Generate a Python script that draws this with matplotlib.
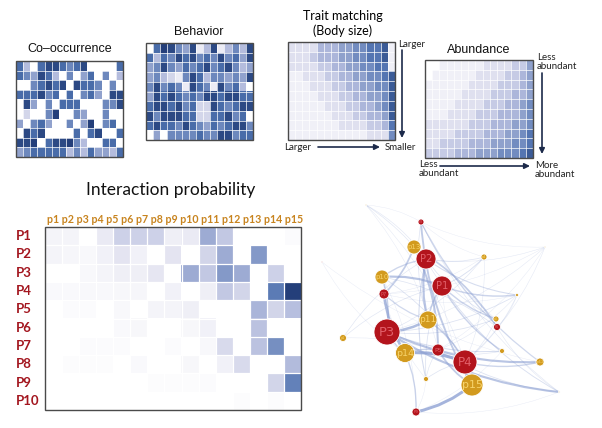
import matplotlib
matplotlib.use('Agg')
import matplotlib.pyplot as plt
import numpy as np
from matplotlib.colors import LinearSegmentedColormap
from matplotlib.patches import Circle, FancyArrowPatch, Rectangle

W, H = 602, 428

# small matrices, levels 0 (white) .. 9 (darkest), one string per row
cooccurrence = [
    "630677656700006",
    "654763050460503",
    "005676707665050",
    "666756060564077",
    "074050666000557",
    "020058005400500",
    "405640050480560",
    "076700006067006",
    "778067785300660",
    "456666635364436",
]
behavior = [
    "068754713713537",
    "636576756575647",
    "457546567567534",
    "453215763554547",
    "575651765175630",
    "476765657767766",
    "677675622765677",
    "757776622667560",
    "676657654656775",
    "040555565577566",
]
trait_matching = [
    "222244455667781",
    "222344455667781",
    "222233445566771",
    "112223344556678",
    "111222334455668",
    "111122233445568",
    "111112223344568",
    "111111222334458",
    "111111122223347",
    "111111111112226",
]
abundance = [
    "001111112222335",
    "011111122223345",
    "111111222233345",
    "111112222333445",
    "111122223334456",
    "111222233344456",
    "222222333444556",
    "222233334445567",
    "223333444555667",
    "333344455566678",
]

plants = ["P1", "P2", "P3", "P4", "P5", "P6", "P7", "P8", "P9", "P10"]
pollinators = ["p1", "p2", "p3", "p4", "p5", "p6", "p7", "p8", "p9", "p10",
               "p11", "p12", "p13", "p14", "p15"]
interaction = [
    [0.08, 0.08, 0, 0.15, 0.3, 0.3, 0.3, 0.12, 0.15, 0.5, 0.35, 0, 0, 0, 0.03],
    [0.08, 0.07, 0.05, 0.1, 0.2, 0.1, 0, 0.2, 0, 0.28, 0.5, 0, 0.6, 0, 0],
    [0, 0, 0.05, 0.08, 0.12, 0.12, 0.18, 0, 0.5, 0.35, 0.6, 0.5, 0, 0.3, 0],
    [0.04, 0.04, 0.05, 0.05, 0.06, 0.07, 0, 0.1, 0, 0.12, 0.35, 0.28, 0, 0.75, 1.0],
    [0, 0.03, 0.03, 0, 0.05, 0, 0.08, 0.08, 0.12, 0, 0, 0, 0.45, 0.28, 0.4],
    [0, 0, 0, 0, 0.04, 0.06, 0, 0, 0.06, 0.1, 0, 0, 0.38, 0, 0],
    [0, 0, 0.03, 0.03, 0.03, 0, 0, 0.03, 0, 0.05, 0.25, 0, 0.38, 0.65, 0],
    [0, 0.02, 0.02, 0.02, 0, 0.04, 0, 0, 0.06, 0, 0.1, 0.25, 0, 0, 0.42],
    [0, 0, 0, 0, 0, 0, 0.02, 0.02, 0.02, 0.03, 0, 0, 0, 0.28, 0.72],
    [0, 0, 0, 0, 0, 0, 0, 0, 0, 0, 0, 0.02, 0, 0.02, 0],
]

# network layout (pixel positions and radii)
plant_x = [442, 426, 387, 465, 438, 497, 384, 421, 416, 322]
plant_y = [286, 259, 332, 362, 350, 327, 294, 222, 412, 262]
plant_r = [10, 10, 13, 12, 6, 3.5, 5, 3, 4, 0.6]
poll_x = [343, 366, 545, 484, 517, 496, 502, 426, 559, 382, 428, 540, 414, 405, 472]
poll_y = [338, 205, 247, 257, 295, 319, 351, 379, 392, 277, 320, 362, 247, 353, 385]
poll_r = [3.5, 0.8, 0.8, 3, 1.5, 3, 2.5, 2.5, 0.8, 7, 9, 4, 7, 9.5, 11]

cmap = LinearSegmentedColormap.from_list(
    'ip', ['#ffffff', '#e4e4f1', '#b7bfdf', '#8499c8', '#4f72b0', '#243f7a'])
RED = '#b3141c'
GOLD = '#d29a1e'


def draw_matrix(ax, values, box, vmax, lw=0.5):
    arr = np.array(values, dtype=float)
    nr, nc = arr.shape
    x0, y0, x1, y1 = box
    ax.imshow(arr, cmap=cmap, vmin=0, vmax=vmax, extent=(x0, x1, y1, y0),
              origin='upper', interpolation='nearest', aspect='auto', zorder=1)
    xs = np.linspace(x0, x1, nc + 1)
    ys = np.linspace(y0, y1, nr + 1)
    ax.vlines(xs[1:-1], y0, y1, color='white', lw=lw, zorder=1.5)
    ax.hlines(ys[1:-1], x0, x1, color='white', lw=lw, zorder=1.5)
    ax.add_patch(Rectangle((x0, y0), x1 - x0, y1 - y0, fill=False,
                           ec='#4a4a4a', lw=1.0, zorder=4))


def arrow(ax, start, end):
    ax.annotate("", xy=end, xytext=start,
                arrowprops=dict(arrowstyle='-|>', color='#1c2a4a', lw=1.2,
                                mutation_scale=8, shrinkA=0, shrinkB=0))


fig = plt.figure(figsize=(W / 100, H / 100), dpi=100)
ax = fig.add_axes([0, 0, 1, 1])
ax.axis('off')

as_levels = lambda rows: [[int(c) for c in r] for r in rows]

# top row of small matrices
draw_matrix(ax, as_levels(cooccurrence), (16, 61, 123, 157), 7.3)
draw_matrix(ax, as_levels(behavior), (146, 43, 253, 140), 7.3)
draw_matrix(ax, as_levels(trait_matching), (288, 42, 395, 140), 9)
draw_matrix(ax, as_levels(abundance), (425, 60, 533, 158), 9)

title_font = dict(family='Liberation Sans', fontsize=9, color='#111111',
                  ha='center', va='center')
calib = ['Lato', 'DejaVu Sans']
ax.text(70, 49, "Co\u2013occurrence", **title_font)
ax.text(199, 32, "Behavior", **title_font)
ax.text(479, 50, "Abundance", **title_font)
ax.text(343, 16, "Trait matching", family=calib, fontsize=9, ha='center', va='center')
ax.text(343, 31, "(Body size)", family=calib, fontsize=9, ha='center', va='center')

small = dict(family=calib, fontsize=7, color='#222222', va='center')
ax.text(398, 44, "Larger", ha='left', **small)
ax.text(284, 147, "Larger", ha='left', **small)
ax.text(385, 147, "Smaller", ha='left', **small)
arrow(ax, (318, 147), (380, 147))
arrow(ax, (402, 50), (402, 138))

ax.text(537, 62, "Less\nabundant", ha='left', linespacing=0.9, **small)
ax.text(535, 170, "More\nabundant", ha='left', linespacing=0.9, **small)
ax.text(419, 169, "Less\nabundant", ha='left', linespacing=0.9, **small)
arrow(ax, (542, 73), (542, 154))
arrow(ax, (440, 166), (530, 166))

# interaction probability matrix
ibox = (45, 227, 301, 410)
draw_matrix(ax, interaction, ibox, 1.0, lw=0.9)
ax.text(171, 190, "Interaction probability", family=calib, fontsize=12.5,
        ha='center', va='center', color='#111111')
ax.text(175, 219, " ".join(pollinators), family=calib, fontsize=7.65,
        fontweight='bold', color='#c8841f', ha='center', va='center')
rh = (ibox[3] - ibox[1]) / len(plants)
for i, name in enumerate(plants):
    ax.text(16, ibox[1] + rh * (i + 0.5), name, family=calib, fontsize=9.5,
            fontweight='bold', color='#a3161f', ha='left', va='center')

# network
M = np.array(interaction)
for i in range(len(plants)):
    for j in range(len(pollinators)):
        w = M[i, j]
        if w <= 0:
            continue
        e = FancyArrowPatch((plant_x[i], plant_y[i]), (poll_x[j], poll_y[j]),
                            arrowstyle='-', connectionstyle='arc3,rad=0.12',
                            lw=0.25 + 2.6 * w, color='#8b9fd2',
                            alpha=min(1.0, 0.2 + 0.8 * w), zorder=2,
                            shrinkA=0, shrinkB=0)
        ax.add_patch(e)

for xs, ys, rs, names, fc, lc in [(plant_x, plant_y, plant_r, plants, RED, '#e2606a'),
                                  (poll_x, poll_y, poll_r, pollinators, GOLD, '#f7d46c')]:
    for x, y, r, name in zip(xs, ys, rs, names):
        ax.add_patch(Circle((x, y), r, fc=fc, ec='white', lw=0.6, zorder=3))
        if r >= 3:
            ax.text(x, y, name, fontsize=max(2.5, r * 0.72), color=lc,
                    ha='center', va='center', zorder=4, family='DejaVu Sans')

# imshow resets limits, so fix the pixel frame last
ax.set_xlim(0, W)
ax.set_ylim(H, 0)

fig.savefig("out.png", dpi=100)
